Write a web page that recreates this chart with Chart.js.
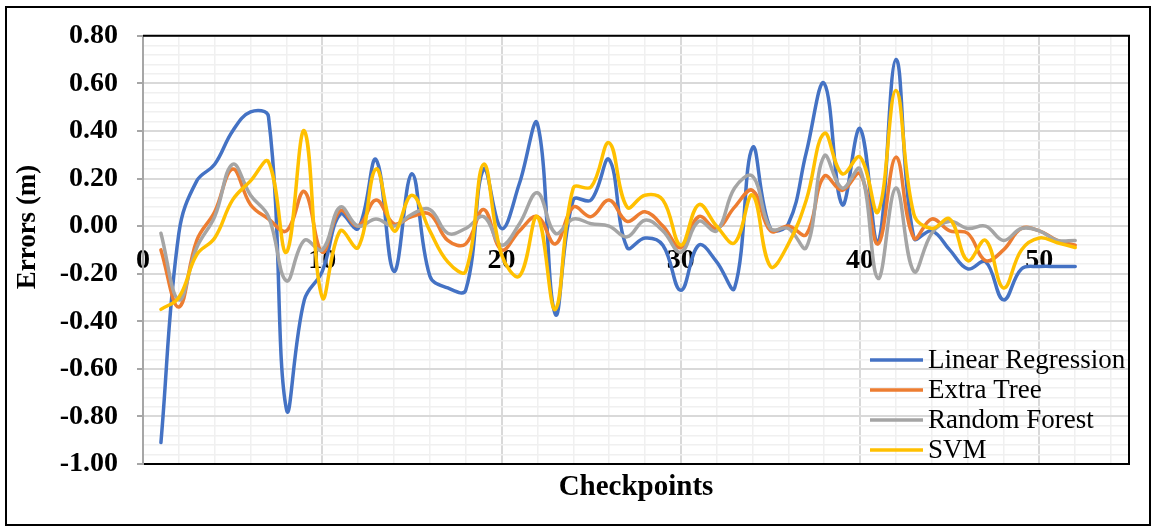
<!DOCTYPE html>
<html>
<head>
<meta charset="utf-8">
<script src="https://cdn.jsdelivr.net/npm/chart.js@4.4.1/dist/chart.umd.min.js"></script>
<style>
  html, body { margin: 0; padding: 0; background: #fff; }
  canvas { display: block; }
</style>
</head>
<body>
<canvas id="grafico" width="1155" height="527"></canvas>
<script>
// Checkpoints 1..52
const checkpoints = [1, 2, 3, 4, 5, 6, 7, 8, 9, 10, 11, 12, 13, 14, 15, 16, 17, 18, 19, 20,
  21, 22, 23, 24, 25, 26, 27, 28, 29, 30, 31, 32, 33, 34, 35, 36, 37, 38, 39, 40,
  41, 42, 43, 44, 45, 46, 47, 48, 49, 50, 51, 52];

const linearRegression = [-0.91, -0.03, 0.19, 0.26, 0.40, 0.48, 0.46, -0.77, -0.31, -0.19,
  0.05, -0.01, 0.28, -0.19, 0.22, -0.21, -0.26, -0.27, 0.24, -0.01,
  0.18, 0.43, -0.37, 0.11, 0.11, 0.28, -0.09, -0.05, -0.08, -0.27,
  -0.08, -0.15, -0.26, 0.33, -0.01, 0.01, 0.31, 0.60, 0.09, 0.41,
  -0.07, 0.70, -0.05, -0.02, -0.10, -0.18, -0.15, -0.31, -0.18, -0.17,
  -0.17, -0.17];

const extraTree = [-0.10, -0.34, -0.06, 0.06, 0.24, 0.09, 0.03, -0.02, 0.145, -0.11,
  0.065, 0.00, 0.11, 0.01, 0.04, 0.05, -0.06, -0.075, 0.07, -0.10,
  -0.02, 0.04, -0.075, 0.08, 0.04, 0.11, 0.02, 0.06, 0.00, -0.09,
  0.04, -0.01, 0.08, 0.15, -0.02, 0.00, -0.035, 0.21, 0.15, 0.22,
  -0.075, 0.29, -0.05, 0.03, -0.02, -0.03, -0.145, -0.10, -0.01, -0.02,
  -0.06, -0.08];

const randomForest = [-0.03, -0.31, -0.09, 0.04, 0.26, 0.13, 0.04, -0.23, -0.06, -0.10,
  0.08, 0.00, 0.03, 0.00, 0.05, 0.07, -0.03, -0.01, 0.04, -0.08,
  0.01, 0.14, -0.03, 0.03, 0.01, 0.00, -0.045, 0.025, -0.02, -0.11,
  0.02, -0.02, 0.16, 0.21, -0.01, -0.01, -0.09, 0.295, 0.16, 0.24,
  -0.22, 0.16, -0.19, -0.03, 0.02, -0.01, 0.00, -0.06, -0.01, -0.02,
  -0.06, -0.06];

const svm = [-0.35, -0.30, -0.12, -0.05, 0.11, 0.19, 0.27, -0.11, 0.40, -0.30,
  -0.02, -0.09, 0.24, -0.02, 0.13, -0.02, -0.15, -0.19, 0.26, -0.12,
  -0.21, 0.04, -0.35, 0.16, 0.165, 0.35, 0.08, 0.13, 0.11, -0.08,
  0.09, 0.00, -0.07, 0.13, -0.17, -0.075, 0.11, 0.39, 0.22, 0.29,
  0.06, 0.57, 0.05, -0.01, 0.03, -0.145, -0.06, -0.26, -0.10, -0.05,
  -0.07, -0.09];

const nombres = ['Linear Regression', 'Extra Tree', 'Random Forest', 'SVM'];
const colores = ['#4472C4', '#ED7D31', '#A5A5A5', '#FFC000'];
const series = [linearRegression, extraTree, randomForest, svm];

const fuente = '"Liberation Serif", "Times New Roman", serif';

const esMayorY = v => Math.abs(Math.round(v * 100)) % 20 === 0;
const esMayorX = v => Math.round(v) % 10 === 0;

// marco, bordes del área, título del eje y y leyenda
const extras = {
  id: 'extras',
  afterDraw(chart) {
    const { ctx, chartArea: a } = chart;
    ctx.save();
    ctx.strokeStyle = '#000';
    ctx.lineWidth = 2;
    ctx.beginPath();
    ctx.moveTo(a.left, a.top);
    ctx.lineTo(a.right, a.top);
    ctx.lineTo(a.right, a.bottom);
    ctx.stroke();
    ctx.strokeRect(6, 7, 1144, 518);

    ctx.fillStyle = '#000';
    ctx.font = 'bold 27px ' + fuente;
    ctx.textAlign = 'center';
    ctx.textBaseline = 'middle';
    ctx.save();
    ctx.translate(28, 227);
    ctx.rotate(-Math.PI / 2);
    ctx.fillText('Errors (m)', 0, 0);
    ctx.restore();

    ctx.font = '27px ' + fuente;
    ctx.textAlign = 'left';
    chart.data.datasets.forEach((ds, i) => {
      const y = 360 + i * 30;
      ctx.strokeStyle = ds.borderColor;
      ctx.lineWidth = 3.5;
      ctx.beginPath();
      ctx.moveTo(870, y);
      ctx.lineTo(923, y);
      ctx.stroke();
      ctx.fillStyle = '#000';
      ctx.fillText(ds.label, 928, y + 1);
    });
    ctx.restore();
  }
};

const datasets = series.map((arr, i) => ({
  label: nombres[i],
  data: checkpoints.map((x, j) => ({ x: x, y: arr[j] })),
  borderColor: colores[i],
  backgroundColor: colores[i],
  borderWidth: 3.5,
  pointRadius: 0,
  tension: 0.4,
  fill: false,
  order: 3 - i,
  borderCapStyle: 'round',
  borderJoinStyle: 'round'
}));

new Chart(document.getElementById('grafico').getContext('2d'), {
  type: 'line',
  data: { datasets: datasets },
  options: {
    responsive: false,
    animation: false,
    devicePixelRatio: 1,
    events: [],
    layout: { padding: { left: 10, right: 26, top: 34, bottom: 0 } },
    plugins: {
      legend: { display: false },
      tooltip: { enabled: false }
    },
    scales: {
      x: {
        type: 'linear',
        position: 'bottom',
        min: 0,
        max: 55,
        ticks: { display: false, stepSize: 2, includeBounds: false },
        grid: {
          drawTicks: false,
          color: c => esMayorX(c.tick.value) ? '#D9D9D9' : '#F0F0F0',
          lineWidth: c => esMayorX(c.tick.value) ? 2 : 1.5
        },
        border: { color: '#000', width: 2 },
        title: {
          display: true,
          text: 'Checkpoints',
          color: '#000',
          font: { family: fuente, size: 29, weight: 'bold' },
          padding: { top: 0, bottom: 22 }
        },
        afterFit: s => { s.height = 63; }
      },
      xl: {
        type: 'linear',
        axis: 'x',
        position: { y: 0 },
        min: 0,
        max: 55,
        ticks: {
          stepSize: 10,
          includeBounds: false,
          autoSkip: false,
          maxRotation: 0,
          padding: 18,
          color: '#000',
          font: { family: fuente, size: 28, weight: 'bold' }
        },
        grid: { display: false, drawTicks: false },
        border: { display: false }
      },
      y: {
        type: 'linear',
        min: -1,
        max: 0.8,
        ticks: {
          stepSize: 0.04,
          autoSkip: false,
          includeBounds: false,
          padding: 19,
          color: '#000',
          font: { family: fuente, size: 28, weight: 'bold' },
          callback: v => esMayorY(v) ? (Math.round(v * 100) / 100).toFixed(2) : ''
        },
        grid: {
          color: c => esMayorY(c.tick.value) ? '#D9D9D9' : '#F0F0F0',
          lineWidth: c => esMayorY(c.tick.value) ? 2 : 1.5,
          tickColor: c => esMayorY(c.tick.value) ? '#A6A6A6' : 'rgba(0,0,0,0)',
          tickLength: 6,
          tickWidth: 2
        },
        border: { color: '#A6A6A6', width: 2 },
        afterFit: s => { s.width = 133; }
      }
    }
  },
  plugins: [extras]
});
</script>
</body>
</html>
